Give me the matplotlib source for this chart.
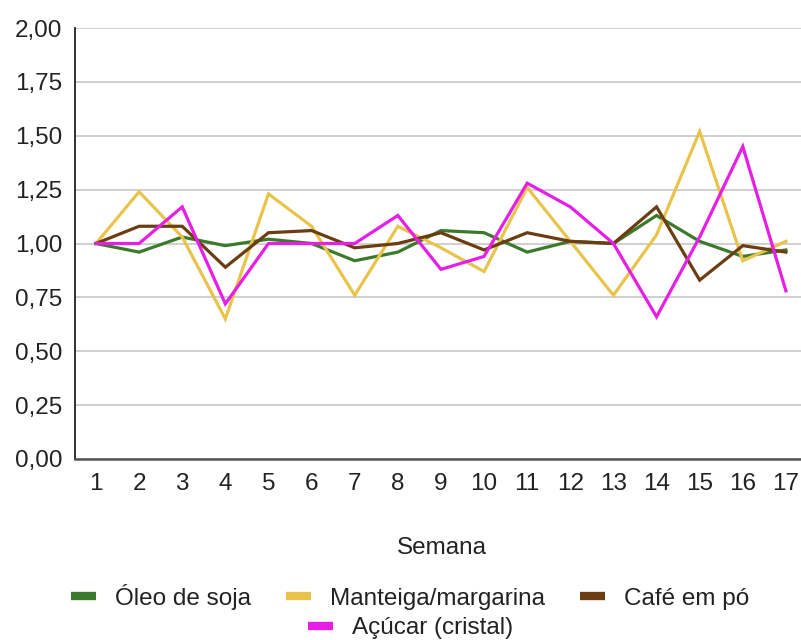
import matplotlib
matplotlib.use("Agg")
import matplotlib.pyplot as plt
from matplotlib.lines import Line2D

semanas = list(range(1, 18))
oleo_soja = [1.00, 0.96, 1.03, 0.99, 1.02, 1.00, 0.92, 0.96, 1.06, 1.05, 0.96, 1.01, 1.00, 1.13, 1.01, 0.94, 0.97]
manteiga = [1.00, 1.24, 1.03, 0.65, 1.23, 1.08, 0.76, 1.08, 0.98, 0.87, 1.26, 1.01, 0.76, 1.04, 1.52, 0.92, 1.01]
cafe = [1.00, 1.08, 1.08, 0.89, 1.05, 1.06, 0.98, 1.00, 1.05, 0.97, 1.05, 1.01, 1.00, 1.17, 0.83, 0.99, 0.96]
acucar = [1.00, 1.00, 1.17, 0.72, 1.00, 1.00, 1.00, 1.13, 0.88, 0.94, 1.28, 1.17, 1.00, 0.66, 1.03, 1.45, 0.78]

series_names = ["Óleo de soja", "Manteiga/margarina", "Café em pó", "Açúcar (cristal)"]
colors = ["#3b7a2a", "#e8c44c", "#6b3d10", "#e61ee6"]
yticks = [0.0, 0.25, 0.5, 0.75, 1.0, 1.25, 1.5, 1.75, 2.0]
ytick_labels = ["0,00", "0,25", "0,50", "0,75", "1,00", "1,25", "1,50", "1,75", "2,00"]

plt.rcParams['font.family'] = ['Liberation Sans', 'DejaVu Sans']
FS = 17.5
TXT = '#222222'

W, H = 801, 640
fig = plt.figure(figsize=(W / 100, H / 100), dpi=100)
ax = fig.add_axes([75 / W, 1 - 459 / H, (801 - 75) / W, (459 - 28) / H])

data = [oleo_soja, manteiga, cafe, acucar]
for vals, c in zip(data, colors):
    ax.plot(semanas, vals, color=c, lw=2.3, solid_joinstyle='miter', zorder=3)

ax.set_xlim(0.513, 17.35)
ax.set_ylim(0, 2.0)
ax.set_yticks(yticks)
ax.set_yticklabels(ytick_labels)
ax.set_xticks(semanas)
ax.set_xticklabels([str(s) for s in semanas])
ax.grid(axis='y', color='#cccccc', lw=1.3, zorder=0)
ax.set_axisbelow(True)
for s in ['top', 'right']:
    ax.spines[s].set_visible(False)
ax.spines['left'].set_color('#222222')
ax.spines['left'].set_linewidth(1.3)
ax.spines['bottom'].set_color('#555555')
ax.spines['bottom'].set_linewidth(1.8)
ax.tick_params(axis='y', length=0, pad=9, labelsize=FS, labelcolor=TXT)
ax.tick_params(axis='x', length=0, pad=10, labelsize=FS, labelcolor=TXT)

fig.text(442 / W, 1 - 548 / H, "Semana", ha='center', va='center', fontsize=FS, color=TXT)

handles = [Line2D([0], [0], color=c, lw=6, solid_capstyle='butt') for c in colors]
common = dict(frameon=False, fontsize=FS, handlelength=1.03, handletextpad=0.78,
              labelcolor=TXT, borderpad=0, borderaxespad=0)
leg1 = fig.legend(handles[:3], series_names[:3], loc='center', bbox_to_anchor=(410 / W, 1 - 597 / H),
                  ncol=3, columnspacing=1.45, **common)
leg2 = fig.legend(handles[3:], series_names[3:], loc='center', bbox_to_anchor=(411 / W, 1 - 628 / H),
                  ncol=1, **common)

fig.savefig("out.png", dpi=100)
